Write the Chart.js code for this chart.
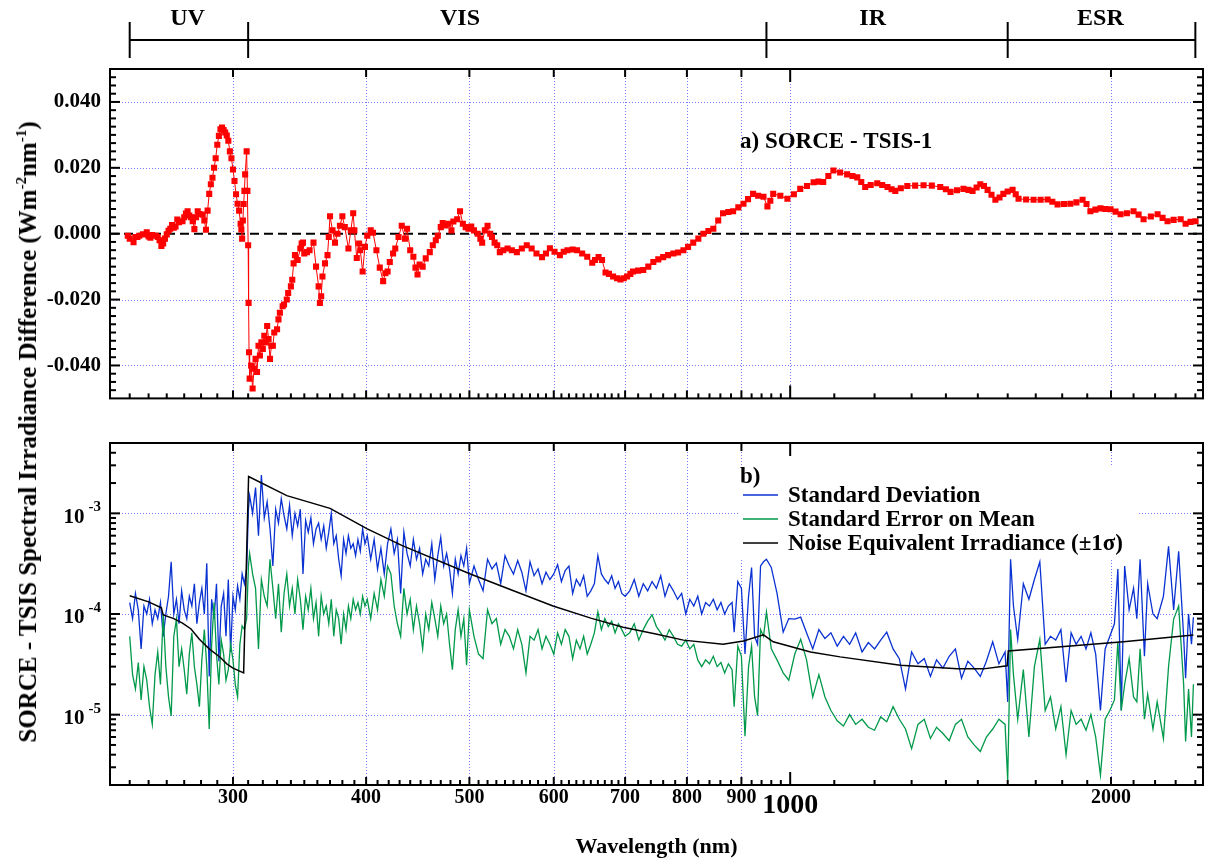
<!DOCTYPE html>
<html><head><meta charset="utf-8">
<script src="https://cdn.jsdelivr.net/npm/chart.js@4"></script>
<style>
html,body{margin:0;padding:0;background:#fff;}
#wrap{position:relative;width:1215px;height:863px;overflow:hidden;background:#fff;}
canvas{position:absolute;left:0;}
#top{top:0;}
#bot{top:420px;}
#ytitle{position:absolute;left:28px;top:432px;transform:translate(-50%,-50%) rotate(-90deg);white-space:nowrap;font:bold 25px "Liberation Serif","Times New Roman",serif;color:#000;z-index:5;}
#ytitle sup{font-size:15px;vertical-align:10px;line-height:0;}
</style></head>
<body>
<div id="wrap">
<canvas id="top" width="1215" height="420"></canvas>
<canvas id="bot" width="1215" height="443"></canvas>
<div id="ytitle">SORCE - TSIS Spectral Irradiance Difference (Wm<sup>-2</sup>nm<sup>-1</sup>)</div>
</div>
<script>
// ---------------- DATA ----------------
const wavelengthTicks = [300, 400, 500, 600, 700, 800, 900, 1000, 2000];
const diffTicks = [-0.04, -0.02, 0, 0.02, 0.04];
const logTicks = [1e-5, 1e-4, 1e-3];
const regionNames = ['UV', 'VIS', 'IR', 'ESR'];
const regionEdges = [240, 310, 950, 1600, 2400];

// a) SORCE - TSIS-1 difference  [wavelength nm, W m-2 nm-1]
const topDifference = [
[239,-0.0006],[240,-0.0015],[242,-0.0026],[243,-0.0010],[244,-0.0010],[245,-0.0006],[247,-0.0002],[249,0.0004],[250,-0.0008],[251,-0.0012],[252,-0.0004],[254,-0.0006],[255,-0.0010],[256,-0.0020],[257,-0.0037],[258,-0.0030],[259,-0.0015],[260,-0.0002],[261,0.0009],[262,0.0015],[263,0.0026],[264,0.0018],[265,0.0022],[266,0.0043],[267,0.0035],[269,0.0038],[270,0.0050],[271,0.0061],[272,0.0068],[273,0.0055],[274,0.0050],[275,0.0038],[276,0.0014],[277,0.0050],[278,0.0068],[279,0.0060],[281,0.0058],[282,0.0040],[283,0.0012],[284,0.0070],[285,0.0121],[286,0.0150],[287,0.0170],[288,0.0200],[289,0.0229],[290,0.0270],[291,0.0297],[292,0.0317],[293,0.0322],[294,0.0315],[295,0.0307],[296,0.0298],[297,0.0282],[298,0.0250],[299,0.0229],[300,0.0195],[301,0.0160],[302,0.0120],[303,0.0091],[304,0.0070],[305,0.0030],[305.5,0.0013],[306,-0.0015],[306.5,0.0040],[307,0.0090],[307.5,0.0130],[308,0.0180],[309,0.0250],[309.5,0.0130],[310,-0.0035],[310.3,-0.0210],[310.6,-0.0360],[311,-0.0440],
[312,-0.0400],[313,-0.0470],[314,-0.0410],[315,-0.0380],[316,-0.0420],[317,-0.0340],[318,-0.0370],[319,-0.0330],[320,-0.0350],[321,-0.0310],[322,-0.0330],[323,-0.0280],[324,-0.0320],[325,-0.0380],[326,-0.0340],[327,-0.0340],[328,-0.0300],[330,-0.0290],[331,-0.0260],[332,-0.0240],[334,-0.0220],[335,-0.0215],[337,-0.0200],[338,-0.0180],[340,-0.0160],[341,-0.0140],[342,-0.0090],[343,-0.0065],[345,-0.0080],[347,-0.0045],[348,-0.0030],[349,-0.0027],[350,-0.0060],[352,-0.0056],[354,-0.0050],[357,-0.0027],[359,-0.0100],[361,-0.0160],[362,-0.0210],[363,-0.0190],[364,-0.0130],[366,-0.0090],[368,-0.0065],[369,-0.0010],[370,0.0053],[372,0.0010],[374,-0.0027],[376,0.0000],[378,0.0024],[380,0.0053],[382,0.0020],[385,-0.0045],[387,0.0010],[389,0.0062],[390,0.0010],[392,-0.0074],[394,-0.0030],[395,-0.0050],[397,-0.0115],[399,-0.0040],
[401,-0.0006],[404,0.0010],[406,0.0003],[409,-0.0050],[412,-0.0103],[415,-0.0144],[417,-0.0120],[419,-0.0115],[421,-0.0086],[424,-0.0060],[426,-0.0045],[429,-0.0010],[432,0.0024],[435,-0.0015],[437,0.0015],[440,-0.0050],[443,-0.0070],[445,-0.0103],[447,-0.0124],[449,-0.0094],[452,-0.0100],[455,-0.0075],[459,-0.0056],[462,-0.0035],[465,-0.0020],[467,-0.0006],[470,0.0020],[472,0.0032],[475,0.0025],[478,0.0030],[481,0.0010],[483,0.0037],[487,0.0044],[490,0.0068],[493,0.0030],[496,0.0020],[499,0.0015],[502,0.0022],[505,0.0010],[509,0.0000],[512,-0.0015],[514,-0.0027],[517,0.0010],[520,0.0024],[523,0.0000],[525,-0.0010],[528,-0.0027],[531,-0.0035],[534,-0.0056],[538,-0.0050],[543,-0.0045],[548,-0.0050],[554,-0.0056],[560,-0.0045],[566,-0.0035],[572,-0.0045],[578,-0.0060],[585,-0.0071],[590,-0.0060],[595,-0.0044],[601,-0.0055],[608,-0.0065],[613,-0.0055],[618,-0.0050],[625,-0.0048],[631,-0.0050],[638,-0.0060],[645,-0.0070],[652,-0.0088],[656,-0.0080],[661,-0.0071],[666,-0.0080],[671,-0.0118],[676,-0.0122],[682,-0.0130],[688,-0.0135],[693,-0.0139],[698,-0.0135],[703,-0.0130],[708,-0.0122],[712,-0.0115],[720,-0.0112],[728,-0.0110],[736,-0.0100],[744,-0.0086],[752,-0.0078],[760,-0.0071],[768,-0.0065],[777,-0.0060],[785,-0.0057],[794,-0.0050],[802,-0.0040],[811,-0.0027],[820,-0.0015],[829,0.0000],[838,0.0008],[847,0.0015],[856,0.0040],[865,0.0062],[875,0.0066],[884,0.0068],[894,0.0080],[904,0.0091],[913,0.0105],[923,0.0121],[933,0.0115],[944,0.0112],[952,0.0083],[958,0.0100],[964,0.0121],[979,0.0115],[994,0.0106],
[1008,0.0120],[1022,0.0136],[1037,0.0145],[1052,0.0156],[1063,0.0158],[1074,0.0157],[1086,0.0175],[1098,0.0192],[1114,0.0186],[1131,0.0180],[1144,0.0175],[1156,0.0171],[1166,0.0157],[1176,0.0142],[1190,0.0148],[1207,0.0153],[1220,0.0148],[1234,0.0142],[1245,0.0135],[1255,0.0130],[1270,0.0138],[1288,0.0145],[1310,0.0146],[1334,0.0147],[1358,0.0146],[1383,0.0142],[1400,0.0135],[1414,0.0127],[1434,0.0132],[1454,0.0136],[1470,0.0133],[1483,0.0130],[1496,0.0140],[1508,0.0150],[1520,0.0145],[1532,0.0133],[1545,0.0118],[1558,0.0103],[1572,0.0110],[1585,0.0121],[1600,0.0128],[1617,0.0133],[1628,0.0120],[1638,0.0106],[1665,0.0104],[1692,0.0103],[1718,0.0103],[1744,0.0104],[1762,0.0097],[1782,0.0089],[1807,0.0090],[1832,0.0091],[1856,0.0095],[1881,0.0103],[1897,0.0090],[1913,0.0068],[1934,0.0073],[1955,0.0077],[1976,0.0075],[1998,0.0074],[2020,0.0067],[2042,0.0059],[2070,0.0062],[2100,0.0068],[2123,0.0058],[2146,0.0044],[2180,0.0052],[2212,0.0059],[2236,0.0048],[2260,0.0038],[2290,0.0042],[2325,0.0044],[2350,0.0030],[2375,0.0036],[2401,0.0038]
];

// b) Standard deviation [wavelength nm, W m-2 nm-1]
const stdDeviation = [
[240,13e-5],[241.5,9e-5],[243,16e-5],[244.5,11e-5],[246,4.5e-5],[247.5,12e-5],[249,10e-5],[250.5,14e-5],[252,8e-5],[253.5,11e-5],[255,9e-5],[256.5,13e-5],[258,6e-5],[259.5,10e-5],[261,15e-5],[262.5,33e-5],[264,10e-5],[265.5,14e-5],[267,8e-5],[268.5,17e-5],[270,11e-5],[271.5,9e-5],[273,15e-5],[274.5,12e-5],[276,20e-5],[277.5,8e-5],[279,13e-5],[280.5,18e-5],[282,10e-5],[283.5,32e-5],[285,2.4e-5],[286.5,14e-5],[288,9e-5],[289.5,20e-5],[291,3.4e-5],[292.5,12e-5],[294,16e-5],[295.5,6e-5],[297,22e-5],[298.5,4.2e-5],[300,15e-5],[301.5,11e-5],[303,19e-5],[304.5,14e-5],[306,25e-5],[307.5,20e-5],[309,28e-5],
[310.2,110e-5],[311,150e-5],[313,100e-5],[315,180e-5],[317,60e-5],[319,240e-5],[321,90e-5],[323,130e-5],[325,70e-5],[327,30e-5],[329,110e-5],[331,80e-5],[333,140e-5],[335,95e-5],[337,70e-5],[339,120e-5],[341,60e-5],[343,100e-5],[345,75e-5],[347,110e-5],[349,25e-5],[351,85e-5],[353,65e-5],[355,90e-5],[357,50e-5],[359,70e-5],[361,80e-5],[363,55e-5],[365,75e-5],[367,45e-5],[369,65e-5],[371,100e-5],[373,50e-5],[375,60e-5],[377,35e-5],[379,24e-5],[381,55e-5],[383,40e-5],[385,60e-5],[387,45e-5],[389,50e-5],[391,38e-5],[393,55e-5],[395,42e-5],[397,70e-5],[399,50e-5],
[401,60e-5],[404,35e-5],[407,55e-5],[410,28e-5],[413,45e-5],[416,25e-5],[419,50e-5],[422,70e-5],[425,40e-5],[428,55e-5],[431,16e-5],[434,65e-5],[437,40e-5],[440,30e-5],[443,55e-5],[446,35e-5],[449,45e-5],[452,25e-5],[455,35e-5],[458,30e-5],[461,50e-5],[464,22e-5],[467,38e-5],[470,58e-5],[473,30e-5],[476,40e-5],[479,28e-5],[482,16e-5],[485,35e-5],[488,25e-5],[491,38e-5],[494,30e-5],[497,45e-5],[500,20e-5],
[505,30e-5],[510,22e-5],[515,17e-5],[520,35e-5],[525,28e-5],[530,32e-5],[535,20e-5],[540,38e-5],[545,30e-5],[550,25e-5],[555,34e-5],[560,26e-5],[565,17e-5],[570,33e-5],[575,24e-5],[580,28e-5],[585,20e-5],[590,26e-5],[595,22e-5],[600,25e-5],[605,31e-5],[610,21e-5],[615,27e-5],[620,30e-5],[625,16e-5],[630,22e-5],[635,19e-5],[640,24e-5],[645,15e-5],[650,17e-5],[655,20e-5],[660,38e-5],[665,25e-5],[670,22e-5],[675,20e-5],[680,24e-5],[685,18e-5],[690,21e-5],[695,16e-5],[700,15e-5],
[707,17e-5],[714,22e-5],[721,15e-5],[728,20e-5],[735,17e-5],[742,21e-5],[749,18e-5],[756,24e-5],[763,15e-5],[770,20e-5],[777,17e-5],[784,14e-5],[791,16e-5],[798,10e-5],[805,14e-5],[812,12e-5],[819,15e-5],[826,10e-5],[833,13e-5],[840,12e-5],[847,14e-5],[854,11e-5],[861,13e-5],[868,10e-5],[875,12e-5],[882,13e-5],[886,6.6e-5],[893,21e-5],[900,18e-5],[907,4e-5],[914,15e-5],[920,29e-5],[926,6e-5],[932,5e-5],[938,30e-5],[944,33e-5],[950,35e-5],
[960,29e-5],[972,16e-5],[985,6.6e-5],[997,9e-5],[1010,8.9e-5],[1023,9.3e-5],[1036,6.5e-5],[1050,4.5e-5],[1064,7e-5],[1078,5.7e-5],[1092,6.5e-5],[1107,4.8e-5],[1122,6e-5],[1137,5e-5],[1152,6.5e-5],[1168,4.2e-5],[1184,5.2e-5],[1200,4.5e-5],[1216,5.5e-5],[1232,6.6e-5],[1249,4.5e-5],[1266,3.6e-5],[1283,1.8e-5],[1300,4.2e-5],[1318,3.2e-5],[1336,3.6e-5],[1354,2.4e-5],[1372,3.5e-5],[1391,2.9e-5],[1410,3.8e-5],[1429,4.5e-5],[1448,2.3e-5],[1468,3.4e-5],[1488,2.9e-5],[1508,2.4e-5],[1528,3.4e-5],[1549,5.3e-5],[1570,3.2e-5],[1591,4.2e-5],
[1600,1.34e-5],[1610,35e-5],[1620,12e-5],[1635,5.6e-5],[1655,20e-5],[1675,14e-5],[1695,22e-5],[1715,33e-5],[1735,5e-5],[1755,6e-5],[1775,5.5e-5],[1795,7e-5],[1815,2.1e-5],[1835,6.5e-5],[1855,5e-5],[1875,6e-5],[1895,4.5e-5],[1915,6.5e-5],[1935,4e-5],[1955,1.1e-5],[1975,4.5e-5],[1995,6e-5],[2015,8e-5],[2030,28e-5],[2045,1.1e-5],[2060,30e-5],[2080,11e-5],[2100,18e-5],[2115,9e-5],[2130,35e-5],[2150,3.8e-5],[2165,20e-5],[2190,10e-5],[2210,9e-5],[2240,15e-5],[2265,47e-5],[2290,11e-5],[2315,42e-5],[2340,6e-5],[2350,2.3e-5],[2365,10e-5],[2380,5e-5],[2390,9.3e-5]
];

// b) Standard error on mean
const stdErrorMean = [
[240,6e-5],[241.5,2.5e-5],[243,1.8e-5],[244.5,3.3e-5],[246,1.4e-5],[247.5,3e-5],[249,2.2e-5],[250.5,1.2e-5],[252,0.8e-5],[253.5,2.5e-5],[255,4.2e-5],[256.5,2e-5],[258,10e-5],[259.5,3e-5],[261,1.5e-5],[262.5,0.97e-5],[264,6e-5],[265.5,8.9e-5],[267,3e-5],[268.5,4.5e-5],[270,2.8e-5],[271.5,1.6e-5],[273,4e-5],[274.5,6.5e-5],[276,3e-5],[277.5,2e-5],[279,1.2e-5],[280.5,3.5e-5],[282,7e-5],[283.5,3e-5],[285,0.72e-5],[286.5,5e-5],[288,13e-5],[289.5,4e-5],[291,2e-5],[292.5,5.5e-5],[294,4e-5],[295.5,2.2e-5],[297,2.8e-5],[298.5,5e-5],[300,3.5e-5],[301.5,2e-5],[303,1.5e-5],[304.5,5e-5],[306,7.6e-5],[307.5,7e-5],[309,9e-5],
[310.2,30e-5],[311,40e-5],[313,25e-5],[315,18e-5],[317,4.5e-5],[319,22e-5],[321,15e-5],[323,12e-5],[325,35e-5],[327,18e-5],[329,9e-5],[331,20e-5],[333,6.6e-5],[335,16e-5],[337,25e-5],[339,12e-5],[341,18e-5],[343,10e-5],[345,22e-5],[347,14e-5],[349,7e-5],[351,15e-5],[353,11e-5],[355,18e-5],[357,9e-5],[359,13e-5],[361,6e-5],[363,15e-5],[365,10e-5],[367,12e-5],[369,8e-5],[371,14e-5],[373,6e-5],[375,11e-5],[377,9e-5],[379,5e-5],[381,10e-5],[383,7e-5],[385,12e-5],[387,9e-5],[389,14e-5],[391,11e-5],[393,13e-5],[395,10e-5],[397,15e-5],[399,12e-5],
[401,14e-5],[404,9e-5],[407,16e-5],[410,11e-5],[413,22e-5],[416,15e-5],[419,30e-5],[422,25e-5],[425,12e-5],[428,8e-5],[431,6e-5],[434,18e-5],[437,10e-5],[440,14e-5],[443,7e-5],[446,12e-5],[449,8e-5],[452,4.5e-5],[455,10e-5],[458,7e-5],[461,13e-5],[464,9e-5],[467,6e-5],[470,12e-5],[473,8e-5],[476,10e-5],[479,5e-5],[482,2.8e-5],[485,7e-5],[488,11e-5],[491,6e-5],[494,9e-5],[497,3.1e-5],[500,11e-5],
[505,6e-5],[510,4e-5],[515,3.6e-5],[520,11e-5],[525,8e-5],[530,9e-5],[535,5e-5],[540,7e-5],[545,6e-5],[550,4.5e-5],[555,7e-5],[560,5e-5],[565,2.6e-5],[570,6e-5],[575,5.5e-5],[580,7e-5],[585,4.5e-5],[590,6e-5],[595,5e-5],[600,4e-5],[605,6.5e-5],[610,5e-5],[615,7e-5],[620,6e-5],[625,3.6e-5],[630,5.5e-5],[635,4.5e-5],[640,6e-5],[645,4e-5],[650,5e-5],[655,6.5e-5],[660,10.5e-5],[665,7e-5],[670,9e-5],[675,7.5e-5],[680,8.5e-5],[685,6.5e-5],[690,8e-5],[695,7e-5],[700,6e-5],
[707,6.5e-5],[714,8e-5],[721,5.5e-5],[728,7e-5],[735,8.5e-5],[742,9.8e-5],[749,7.5e-5],[756,6.5e-5],[763,5.5e-5],[770,7e-5],[777,6e-5],[784,5e-5],[791,4.8e-5],[798,5.5e-5],[805,4.5e-5],[812,5e-5],[819,3.5e-5],[826,3e-5],[833,3.5e-5],[840,3.2e-5],[847,3.8e-5],[854,3e-5],[861,3.3e-5],[868,2.6e-5],[875,3.2e-5],[882,2.8e-5],[886,1.2e-5],[893,4.8e-5],[900,3.8e-5],[907,0.61e-5],[914,3e-5],[920,4.8e-5],[926,1.5e-5],[932,0.98e-5],[938,7e-5],[944,6e-5],[950,10.5e-5],
[960,4.5e-5],[972,3.5e-5],[985,2.6e-5],[997,2.2e-5],[1010,4e-5],[1023,5.6e-5],[1036,3.5e-5],[1050,1.5e-5],[1064,2.5e-5],[1078,1.5e-5],[1092,1.1e-5],[1107,0.87e-5],[1122,0.77e-5],[1137,1.0e-5],[1152,0.8e-5],[1168,0.9e-5],[1184,0.75e-5],[1200,0.7e-5],[1216,0.95e-5],[1232,0.85e-5],[1249,1.2e-5],[1266,0.9e-5],[1283,0.72e-5],[1300,0.46e-5],[1318,0.8e-5],[1336,0.9e-5],[1354,0.58e-5],[1372,0.75e-5],[1391,0.65e-5],[1410,0.55e-5],[1429,0.8e-5],[1448,0.9e-5],[1468,0.6e-5],[1488,0.5e-5],[1508,0.43e-5],[1528,0.6e-5],[1549,0.72e-5],[1570,0.9e-5],[1591,0.8e-5],
[1600,0.22e-5],[1610,7e-5],[1620,2.5e-5],[1635,0.9e-5],[1655,2.8e-5],[1675,0.6e-5],[1695,3e-5],[1715,5.6e-5],[1735,1.1e-5],[1755,1.5e-5],[1775,0.72e-5],[1795,1.2e-5],[1815,0.4e-5],[1835,1.1e-5],[1855,0.8e-5],[1875,0.9e-5],[1895,0.7e-5],[1915,1.0e-5],[1935,0.6e-5],[1955,0.25e-5],[1975,0.9e-5],[1995,1.1e-5],[2015,1.4e-5],[2030,5.3e-5],[2045,1.1e-5],[2060,2e-5],[2080,3.6e-5],[2100,1.5e-5],[2115,1.34e-5],[2130,4.5e-5],[2150,0.9e-5],[2165,1.6e-5],[2190,0.72e-5],[2210,1.34e-5],[2240,0.58e-5],[2265,3e-5],[2290,8.9e-5],[2315,12e-5],[2340,2e-5],[2350,0.54e-5],[2365,1.8e-5],[2380,0.6e-5],[2390,2e-5]
];

// b) Noise equivalent irradiance (±1σ)
const noiseEquivalent = [
[240,15.2e-5],[250,13.2e-5],[257,11.5e-5],[258,9.8e-5],[264,9.0e-5],[269,8.1e-5],[274,7.1e-5],[279,5.6e-5],[285,4.5e-5],[292,3.7e-5],[296,3.2e-5],[300,2.9e-5],[307,2.6e-5],[310.3,232e-5],[337,150e-5],[370,112e-5],[401,70e-5],[432,48e-5],[501,25e-5],[550,17e-5],[599,12e-5],[650,9.1e-5],[697,7.4e-5],[750,6.3e-5],[794,5.5e-5],[865,5.0e-5],[904,5.4e-5],[944,6.2e-5],[964,5.3e-5],[1045,4.2e-5],[1114,3.75e-5],[1269,3.1e-5],[1435,2.85e-5],[1518,2.85e-5],[1598,3.06e-5],[1602,4.3e-5],[2055,5.3e-5],[2390,6.2e-5]
];

// ---------------- STYLE ----------------
const FONT = '"Liberation Serif","Times New Roman",serif';
const X_MIN = 230, X_MAX = 2440;
const GRID = '#7a7aff';
const toXY = a => a.map(p => ({x: p[0], y: p[1]}));

function seg(ctx, x1, y1, x2, y2){ ctx.beginPath(); ctx.moveTo(x1, y1); ctx.lineTo(x2, y2); ctx.stroke(); }

function minorWavelengths(){
  const m = [];
  for (let w = 240; w < 700; w += 10) if (w % 100 !== 0) m.push(w);
  for (let w = 720; w < 1000; w += 20) if (w % 100 !== 0) m.push(w);
  for (let w = 1100; w <= 2400; w += 100) if (w !== 2000) m.push(w);
  return m;
}

function drawXGrid(ctx, x, a, list){
  ctx.save(); ctx.strokeStyle = GRID; ctx.lineWidth = 1; ctx.setLineDash([1, 2]);
  list.forEach(w => { const px = Math.round(x.getPixelForValue(w)) + 0.5; seg(ctx, px, a.top, px, a.bottom); });
  ctx.restore();
}
function drawYGrid(ctx, y, a, list){
  ctx.save(); ctx.strokeStyle = GRID; ctx.lineWidth = 1; ctx.setLineDash([1, 2]);
  list.forEach(v => { const py = Math.round(y.getPixelForValue(v)) + 0.5; seg(ctx, a.left, py, a.right, py); });
  ctx.restore();
}

function drawFrameAndXTicks(ctx, x, a){
  ctx.save(); ctx.strokeStyle = '#000'; ctx.lineWidth = 2; ctx.setLineDash([]);
  ctx.strokeRect(a.left, a.top, a.right - a.left, a.bottom - a.top);
  wavelengthTicks.forEach(w => {
    const px = x.getPixelForValue(w); const len = (w === 1000) ? 13 : 8;
    seg(ctx, px, a.bottom, px, a.bottom - len);
    seg(ctx, px, a.top, px, a.top + len);
  });
  minorWavelengths().forEach(w => { const px = x.getPixelForValue(w); seg(ctx, px, a.bottom, px, a.bottom - 5); });
  ctx.restore();
}
function drawYTicks(ctx, y, a, majors, minors){
  ctx.save(); ctx.strokeStyle = '#000'; ctx.lineWidth = 2;
  majors.forEach(v => { const py = y.getPixelForValue(v); seg(ctx, a.left, py, a.left + 10, py); seg(ctx, a.right, py, a.right - 10, py); });
  minors.forEach(v => { const py = y.getPixelForValue(v); seg(ctx, a.left, py, a.left + 6, py); seg(ctx, a.right, py, a.right - 6, py); });
  ctx.restore();
}

const topDecor = {
  id: 'topDecor',
  beforeDatasetsDraw(chart){
    const {ctx, chartArea: a, scales: {x, y}} = chart;
    drawXGrid(ctx, x, a, wavelengthTicks);
    drawYGrid(ctx, y, a, diffTicks.filter(v => v !== 0));
    ctx.save(); ctx.strokeStyle = '#000'; ctx.lineWidth = 2; ctx.setLineDash([9, 5]);
    const py = y.getPixelForValue(0); seg(ctx, a.left, py, a.right, py);
    ctx.restore();
  },
  afterDatasetsDraw(chart){
    const {ctx, chartArea: a, scales: {x, y}} = chart;
    drawFrameAndXTicks(ctx, x, a);
    const minors = [];
    for (let k = -19; k <= 19; k++) { if (k % 8 !== 0) minors.push(k * 0.0025); }
    drawYTicks(ctx, y, a, diffTicks, minors);
    ctx.save(); ctx.fillStyle = '#000'; ctx.font = 'bold 23px ' + FONT; ctx.textBaseline = 'middle'; ctx.textAlign = 'left';
    ctx.fillText('a) SORCE - TSIS-1', 740, 142);
    // spectral region brackets
    ctx.strokeStyle = '#000'; ctx.lineWidth = 2;
    const ex = regionEdges.map(w => x.getPixelForValue(w));
    seg(ctx, ex[0], 40, ex[ex.length - 1], 40);
    ex.forEach(px => seg(ctx, px, 22, px, 58));
    const labelAt = [272, 490, 1195, 1955];
    ctx.textAlign = 'center'; ctx.font = 'bold 24px ' + FONT;
    regionNames.forEach((n, i) => ctx.fillText(n, x.getPixelForValue(labelAt[i]), 19));
    ctx.restore();
  }
};

const legendBox = {left: 738, top: 47, right: 1137, bottom: 140};
const botDecor = {
  id: 'botDecor',
  beforeDatasetsDraw(chart){
    const {ctx, chartArea: a, scales: {x, y}} = chart;
    drawXGrid(ctx, x, a, wavelengthTicks.filter(w => w !== 1000));
    drawYGrid(ctx, y, a, logTicks);
    ctx.save(); ctx.fillStyle = '#fff';
    ctx.fillRect(legendBox.left, legendBox.top, legendBox.right - legendBox.left, legendBox.bottom - legendBox.top);
    ctx.restore();
  },
  afterDatasetsDraw(chart){
    const {ctx, chartArea: a, scales: {x, y}} = chart;
    drawFrameAndXTicks(ctx, x, a);
    const minors = [];
    [1e-6, 1e-5, 1e-4, 1e-3].forEach(d => { for (let k = 2; k <= 9; k++) { const v = k * d; if (v >= 2e-6 && v <= 5e-3) minors.push(v); } });
    drawYTicks(ctx, y, a, logTicks, minors);
    // log tick labels 10^n
    ctx.save(); ctx.fillStyle = '#000'; ctx.textBaseline = 'middle'; ctx.textAlign = 'left';
    logTicks.forEach(v => {
      const py = y.getPixelForValue(v);
      const e = String(Math.round(Math.log10(v)));
      ctx.font = 'bold 15px ' + FONT; const ew = ctx.measureText(e).width;
      ctx.fillText(e, 101 - ew, py - 6);
      ctx.font = 'bold 21px ' + FONT; const bw = ctx.measureText('10').width;
      ctx.fillText('10', 101 - ew - 4 - bw, py + 4);
    });
    // legend
    ctx.font = 'bold 23px ' + FONT;
    ctx.fillText('b)', 740, 57);
    chart.data.datasets.slice().sort((p, q) => p.legendIndex - q.legendIndex).forEach((ds, i) => {
      const ly = 75 + i * 24;
      ctx.strokeStyle = ds.borderColor; ctx.lineWidth = 1.5;
      seg(ctx, 743, ly, 778, ly);
      ctx.fillText(ds.label, 788, ly + 1);
    });
    ctx.restore();
  }
};

Chart.defaults.font.family = FONT;

new Chart(document.getElementById('top'), {
  type: 'scatter',
  data: { datasets: [{
    label: 'SORCE - TSIS-1',
    data: toXY(topDifference),
    showLine: true, borderColor: '#ff0000', borderWidth: 1,
    backgroundColor: '#ff0000', pointBackgroundColor: '#ff0000', pointBorderWidth: 0,
    pointStyle: 'rect', pointRadius: 4.3, pointHoverRadius: 4.3
  }]},
  options: {
    responsive: false, animation: false, events: [], devicePixelRatio: 1,
    layout: { padding: { left: 0, right: 12, top: 69, bottom: 12 } },
    plugins: { legend: { display: false }, tooltip: { enabled: false } },
    scales: {
      x: { type: 'logarithmic', min: X_MIN, max: X_MAX, display: false },
      y: { type: 'linear', min: -0.05, max: 0.05,
        afterFit: s => { s.width = 110; },
        afterBuildTicks: s => { s.ticks = diffTicks.map(v => ({ value: v })); },
        grid: { display: false, drawTicks: false }, border: { display: false },
        ticks: { color: '#000', padding: 9, font: { family: FONT, size: 21, weight: 'bold' }, callback: v => Number(v).toFixed(3) } }
    }
  },
  plugins: [topDecor]
});

new Chart(document.getElementById('bot'), {
  type: 'scatter',
  data: { datasets: [
    { label: 'Standard Deviation', legendIndex: 0, order: 2, data: toXY(stdDeviation), showLine: true, borderColor: '#0a32d2', borderWidth: 1.3, pointRadius: 0 },
    { label: 'Standard Error on Mean', legendIndex: 1, order: 1, data: toXY(stdErrorMean), showLine: true, borderColor: '#00994a', borderWidth: 1.3, pointRadius: 0 },
    { label: 'Noise Equivalent Irradiance (\u00b11\u03c3)', legendIndex: 2, order: 0, data: toXY(noiseEquivalent), showLine: true, borderColor: '#000000', borderWidth: 1.5, pointRadius: 0 }
  ]},
  options: {
    responsive: false, animation: false, events: [], devicePixelRatio: 1,
    layout: { padding: { left: 0, right: 12, top: 23, bottom: 0 } },
    plugins: { legend: { display: false }, tooltip: { enabled: false } },
    scales: {
      x: { type: 'logarithmic', min: X_MIN, max: X_MAX, position: 'bottom',
        afterFit: s => { s.height = 78; },
        afterBuildTicks: s => { s.ticks = wavelengthTicks.map(v => ({ value: v })); },
        grid: { display: false, drawTicks: false }, border: { display: false },
        ticks: { autoSkip: false, maxRotation: 0, minRotation: 0, padding: 1, color: '#000',
          font: c => (c.tick && c.tick.value === 1000) ? { family: FONT, size: 28, weight: 'bold', lineHeight: 1.4 } : { family: FONT, size: 20, weight: 'bold' },
          callback: v => String(v) },
        title: { display: true, text: 'Wavelength (nm)', color: '#000', font: { family: FONT, size: 22, weight: 'bold' }, padding: { top: 0, bottom: 2 } } },
      y: { type: 'logarithmic', min: 2e-6, max: 5e-3,
        afterFit: s => { s.width = 110; },
        grid: { display: false, drawTicks: false }, border: { display: false },
        ticks: { display: false } }
    }
  },
  plugins: [botDecor]
});
</script>
</body></html>
